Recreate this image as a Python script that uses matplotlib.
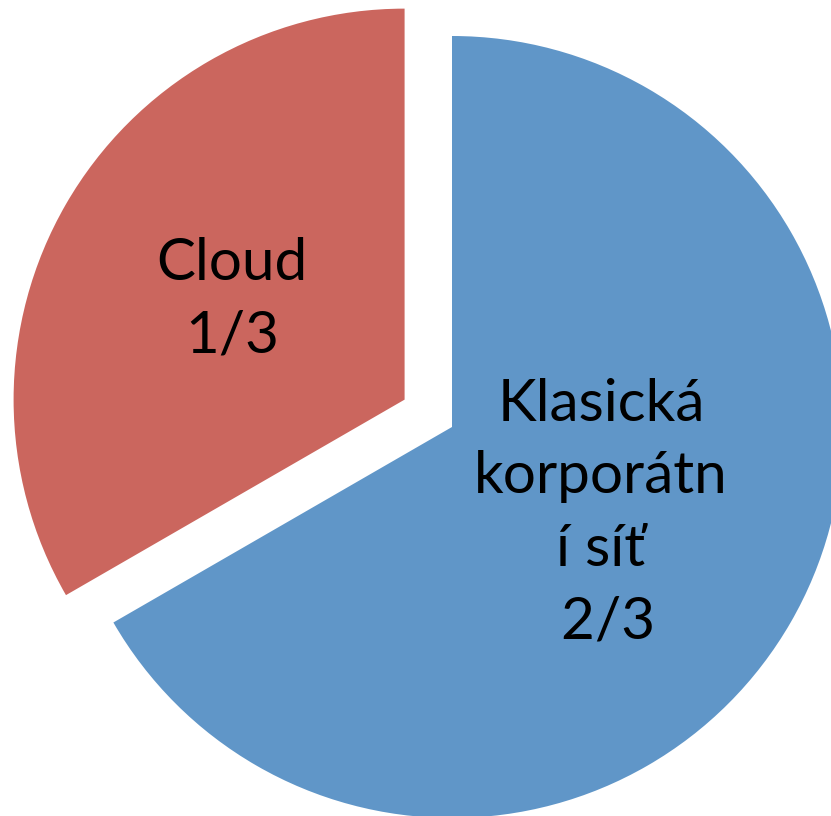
import numpy as np
import matplotlib.pyplot as plt

# data
labels = ["Klasická korporátní síť", "Cloud"]
shown = ["Klasická\nkorporátn\ní síť\n 2/3", "Cloud\n1/3"]
values = [2, 1]
colors = ["#6096C8", "#CB665E"]
explode = [0, 0.14]
label_dist = [0.44, 0.51]

fig = plt.figure(figsize=(8.31, 8.16), dpi=100)
ax = fig.add_axes([0, 0, 1, 1])

wedges, _ = ax.pie(values, colors=colors, explode=explode, startangle=90,
                   counterclock=False, radius=1,
                   wedgeprops=dict(linewidth=0))

# place labels along each wedge bisector
for w, txt, d in zip(wedges, shown, label_dist):
    mid = np.deg2rad((w.theta1 + w.theta2) / 2)
    cx, cy = w.center
    ax.text(cx + d * w.r * np.cos(mid), cy + d * w.r * np.sin(mid), txt,
            ha="center", va="center", fontsize=42, family="Lato",
            linespacing=1.45, color="black")

R = 391.0
ax.set_xlim(-452 / R, (831 - 452) / R)
ax.set_ylim(-(816 - 427) / R, 427 / R)
ax.set_aspect("equal")
ax.axis("off")

fig.savefig("out.png", dpi=100)
